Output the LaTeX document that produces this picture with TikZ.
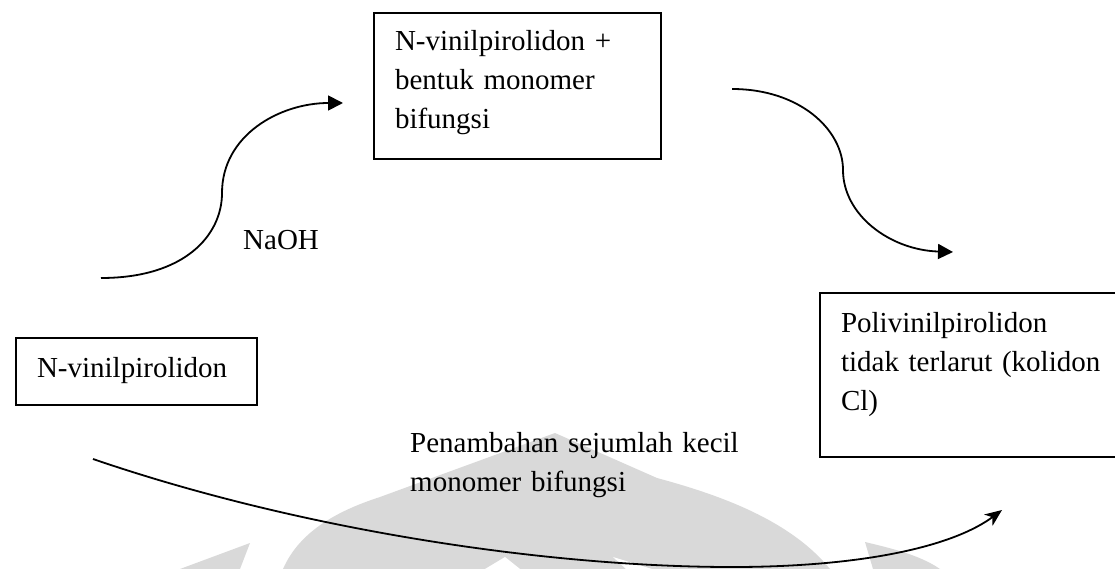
\documentclass[tikz,border=0pt]{standalone}
\usepackage{fontspec}
\setmainfont{Liberation Serif}
\usetikzlibrary{arrows.meta}
\definecolor{wm}{RGB}{217,217,217}
\begin{document}
\begin{tikzpicture}[x=1pt,y=-1pt,
  box/.style={draw, line width=2pt, rectangle, anchor=north west, align=left,
    inner xsep=21pt, inner ysep=0pt, font=\fontsize{29pt}{39pt}\selectfont},
  lbl/.style={inner sep=0pt, font=\fontsize{29pt}{39pt}\selectfont, anchor=base west},
  conn/.style={line width=1.8pt},
  tri/.style={-{Triangle[length=15pt,width=15pt]}},
  stl/.style={-{Stealth[length=17pt,width=14pt,inset=5pt]}},
  wmark/.style={fill=wm, draw=none}]
\useasboundingbox (0,0) rectangle (1115,569);
\clip (0,0) rectangle (1115,569);
% watermark
\fill[wmark] (283,569) .. controls (300,530) and (340,510) .. (380,497) -- (555,433) -- (657,478)
  .. controls (720,495) and (790,520) .. (830,569) -- cycle;
\fill[white] (485,569) -- (505,557) -- (520,569) -- cycle;
\fill[white] (613,557) -- (626,569) -- (652,569) -- cycle;
\fill[wmark] (180,569) -- (250,543) -- (240,569) -- cycle;
\fill[wmark] (865,542) -- (873,569) -- (940,569) .. controls (920,555) and (890,548) .. (865,542) -- cycle;
% boxes
\node[box, text width=245pt] (tb) at (373,12)
  {\rule{0pt}{38pt}N-vinilpirolidon +\\ bentuk monomer\\ bifungsi\rule[-30pt]{0pt}{30pt}};
\node[box, text width=199pt] (lb) at (15,337)
  {\rule{0pt}{39pt}\mbox{N-vinilpirolidon}\rule[-28pt]{0pt}{28pt}};
\node[box, text width=280pt] (rb) at (819,292)
  {\rule{0pt}{39pt}Polivinilpirolidon\\ tidak terlarut (kolidon\\ Cl)\rule[-47pt]{0pt}{47pt}};
% labels
\node[lbl] (naoh) at (243,250) {NaOH};
\node[lbl, text width=360pt, align=left] (pen) at (410,452)
  {Penambahan sejumlah kecil\\ monomer bifungsi};
% connectors
\coordinate (s1) at (101,278); \coordinate (e1) at (343,103);
\draw[conn, tri] (s1) .. controls (185,278) and (222,235) .. (222,193)
  .. controls (222,135) and (280,103) .. (e1);
\coordinate (s2) at (732,89); \coordinate (e2) at (953,252);
\draw[conn, tri] (s2) .. controls (800,89) and (843,130) .. (843,170)
  .. controls (843,215) and (890,250) .. (e2);
\coordinate (s3) at (93,459); \coordinate (e3) at (1002,510);
\draw[conn, stl] (s3) .. controls (300,530) and (550,568) .. (740,567)
  .. controls (870,566) and (955,545) .. (e3);
\end{tikzpicture}
\end{document}
